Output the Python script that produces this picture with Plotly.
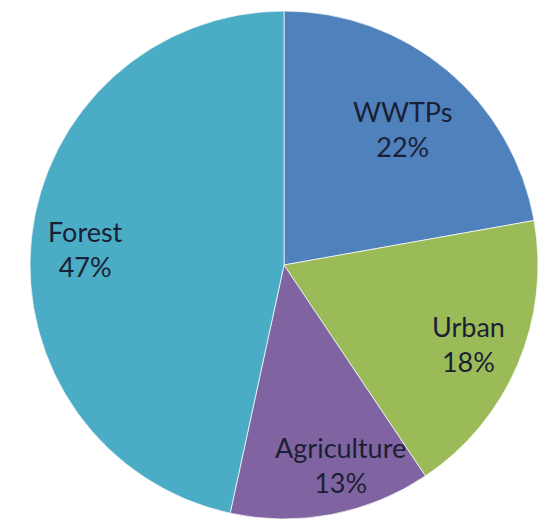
import math
import plotly.graph_objects as go

labels = ["WWTPs", "Urban", "Agriculture", "Forest"]
values = [22.2, 18.4, 12.8, 46.6]
colors = ["#4F81BD", "#9BBB59", "#8064A2", "#4BACC6"]

# style: pie geometry (pixels) and label placement
W, H = 546, 520
CX, CY, R = 284, 265, 254
label_radius = [0.71, 0.79, 0.82, 0.785]
label_angle_shift = [1.0, 0.0, -5.0, -1.5]  # degrees

fig = go.Figure(go.Pie(
    labels=labels,
    values=values,
    sort=False,
    direction="clockwise",
    rotation=0,
    marker=dict(colors=colors, line=dict(color="rgba(255,255,255,0.7)", width=1)),
    textinfo="none",
    domain=dict(x=[(CX - R) / W, (CX + R) / W], y=[1 - (CY + R) / H, 1 - (CY - R) / H]),
    showlegend=False,
    hoverinfo="label+percent",
))

total = sum(values)
cum = 0
for lab, val, rf, sh in zip(labels, values, label_radius, label_angle_shift):
    mid = (cum + val / 2) / total * 2 * math.pi + math.radians(sh)
    cum += val
    px = CX + rf * R * math.sin(mid)
    py = CY - rf * R * math.cos(mid)
    fig.add_annotation(
        x=px / W, y=1 - py / H, xref="paper", yref="paper",
        text=f"{lab}<br>{round(val / total * 100)}%",
        showarrow=False, xanchor="center", yanchor="middle",
        font=dict(family="Lato, Noto Sans, sans-serif", size=27, color="#1b1f33"),
    )

fig.update_layout(
    width=W, height=H,
    margin=dict(l=0, r=0, t=0, b=0),
    paper_bgcolor="white",
    plot_bgcolor="white",
    showlegend=False,
)

fig.write_html("out.html")
